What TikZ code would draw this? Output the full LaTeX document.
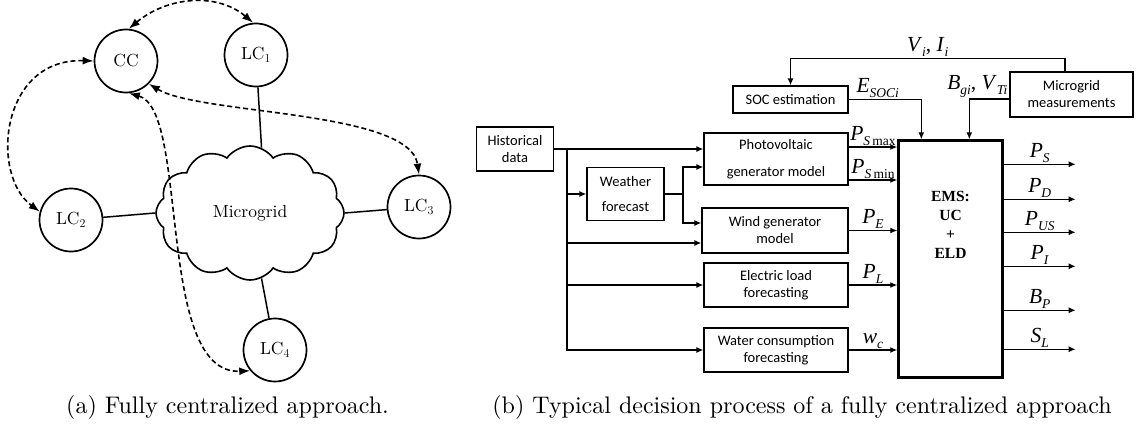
\documentclass[tikz,border=0pt]{standalone}
\usepackage{fontspec}
\setmainfont{lmroman10-regular.otf}[BoldFont=lmroman10-bold.otf, ItalicFont=lmroman10-italic.otf]
\newfontfamily\calib{Carlito}
\newfontfamily\tnr{Liberation Serif}
\usetikzlibrary{shapes.symbols,arrows.meta,positioning,calc}
\newcommand{\sig}[2]{\textit{#1}\raisebox{-5pt}{\fontsize{13.5}{14}\selectfont\textit{#2}}}

\begin{document}
\begin{tikzpicture}[x=1pt,y=-1pt,
    lc/.style={circle, draw, line width=1.7pt, minimum size=63pt, inner sep=0pt,
               font=\fontsize{17.5}{20}\selectfont},
    link/.style={line width=1.5pt},
    comm/.style={line width=1.6pt, dash pattern=on 5pt off 3pt,
                 {Latex[length=11pt,width=8pt]}-{Latex[length=11pt,width=8pt]}},
    blk/.style={rectangle, draw, line width=1.3pt, align=center, inner sep=2pt,
                font=\calib\fontsize{14.5}{17}\selectfont},
    flow/.style={line width=1.3pt, -{Latex[length=7pt,width=6pt]}},
    sgn/.style={font=\tnr\fontsize{21.5}{22}\selectfont, inner sep=1pt},
    captxt/.style={font=\fontsize{24}{28}\selectfont}
]
    \useasboundingbox (0,0) rectangle (1143,428);

    % (a) fully centralized
    \node[lc] (cc) at (126,61) {CC};
    \node[lc] (lc1) at (256,55) {LC$_1$};
    \node[lc] (lc2) at (71,220) {LC$_2$};
    \node[lc] (lc3) at (419,207) {LC$_3$};
    \node[lc] (lc4) at (275,350) {LC$_4$};
    \node[cloud, draw, line width=1.6pt, cloud puffs=12, cloud puff arc=110, aspect=1.4,
          minimum width=188pt, minimum height=134pt,
          font=\fontsize{17.5}{20}\selectfont] (mg) at (250,213) {Microgrid};

    \draw[link] (lc1) -- (mg.80);
    \draw[link] (lc2) -- (mg.west);
    \draw[link] (lc3) -- (mg.east);
    \draw[link] (lc4) -- (mg.-80);

    \draw[comm] (cc.85) to[out=40,in=140] (lc1.95);
    \draw[comm] (cc.west) .. controls (0,58) and (-10,175) .. (lc2.165);
    \draw[comm] (cc.-45) .. controls (200,115) and (410,110) .. (lc3.north);
    \draw[comm] (cc.-85) .. controls (190,110) and (155,375) .. (lc4.220);

    \node[captxt] (capa) at (227.5,407) {(a) Fully centralized approach.};

    % (b) decision process
    \node[blk, minimum width=77pt, minimum height=44pt] (hist) at (515,149) {Historical\\data};
    \node[blk, minimum width=77pt, minimum height=53pt] (weather) at (625.5,194) {Weather\\[8pt]forecast};
    \node[blk, minimum width=144pt, minimum height=52pt] (pv) at (776,159) {Photovoltaic\\[10pt]generator model};
    \node[blk, minimum width=146pt, minimum height=45pt] (wind) at (775,230.5) {Wind generator\\model};
    \node[blk, minimum width=144pt, minimum height=44pt] (elec) at (776,285) {Electric load\\forecasting};
    \node[blk, minimum width=144pt, minimum height=44pt] (water) at (776,350) {Water consumption\\forecasting};
    \node[blk, minimum width=115pt, minimum height=27pt] (soc) at (790.5,99.5) {SOC estimation};
    \node[blk, minimum width=123pt, minimum height=45pt] (meas) at (1071.5,94.5) {Microgrid\\measurements};
    \node[draw, line width=2.4pt, minimum width=104pt, minimum height=237pt] (ems) at (950.5,259) {};
    \node[align=center, font=\tnr\bfseries\fontsize{15.5}{19}\selectfont] (emslbl)
        at ($(ems.center)+(0,-34)$) {EMS:\\UC\\+\\ELD};

    % inputs
    \coordinate (split) at (567,149);
    \draw[flow] (hist.east) -- (hist.east -| pv.west);
    \draw[flow] (split) |- (weather.west);
    \draw[flow] (split) |- ($(wind.west)+(0,12.5)$);
    \draw[flow] (split) |- (elec.west);
    \draw[flow] (split) |- (water.west);
    \coordinate (wsplit) at (683,194);
    \draw[link, line width=1.3pt] (weather.east) -- (wsplit);
    \draw[flow] (wsplit) |- ($(pv.west)+(0,8)$);
    \draw[flow] (wsplit) |- ($(wind.west)+(0,-7.5)$);

    % models to EMS
    \coordinate (pvhi) at ($(pv.east)+(0,-12)$);
    \coordinate (pvlo) at ($(pv.east)+(0,21)$);
    \draw[flow] (pvhi) -- (pvhi -| ems.west) node[midway, above, sgn] (psmax) {\sig{P}{S\,\upshape max}};
    \draw[flow] (pvlo) -- (pvlo -| ems.west) node[midway, above, sgn] (psmin) {\sig{P}{S\,\upshape min}};
    \draw[flow] (wind.east) -- (wind.east -| ems.west) node[midway, above, sgn] (pe) {\sig{P}{E}};
    \draw[flow] (elec.east) -- (elec.east -| ems.west) node[midway, above, sgn] (pl) {\sig{P}{L}};
    \draw[flow] (water.east) -- (water.east -| ems.west) node[midway, above, sgn] (wc) {\sig{w}{c}};

    % measurements
    \draw[flow] ($(meas.north)+(-6.5,0)$) -- ++(0,-13) -| node[pos=0.25, above, sgn] (vi) {\sig{V}{i}, \sig{I}{i}} (soc.north);
    \draw[flow] (soc.east) -| node[pos=0.2, above, sgn] (esoc) {\sig{E}{SOCi}} ($(ems.north west)+(24,0)$);
    \draw[flow] ($(meas.west)+(0,4.5)$) -| node[pos=0.4, above, sgn] (bg) {\sig{B}{gi}, \sig{V}{Ti}} ($(ems.north west)+(72,0)$);

    % outputs
    \draw[flow] ($(ems.north east)+(0,25)$) -- ++(72,0) node[midway, above, sgn] (ps) {\sig{P}{S}};
    \draw[flow] ($(ems.north east)+(0,60)$) -- ++(72,0) node[midway, above, sgn] (pd) {\sig{P}{D}};
    \draw[flow] ($(ems.north east)+(0,93)$) -- ++(72,0) node[midway, above, sgn] (pus) {\sig{P}{US}};
    \draw[flow] ($(ems.north east)+(0,127)$) -- ++(72,0) node[midway, above, sgn] (pi) {\sig{P}{I}};
    \draw[flow] ($(ems.north east)+(0,171)$) -- ++(72,0) node[midway, above, sgn] (bp) {\sig{B}{P}};
    \draw[flow] ($(ems.north east)+(0,210)$) -- ++(72,0) node[midway, above, sgn] (sl) {\sig{S}{L}};

    \node[captxt] (capb) at (802,407) {(b) Typical decision process of a fully centralized approach};
\end{tikzpicture}
\end{document}
